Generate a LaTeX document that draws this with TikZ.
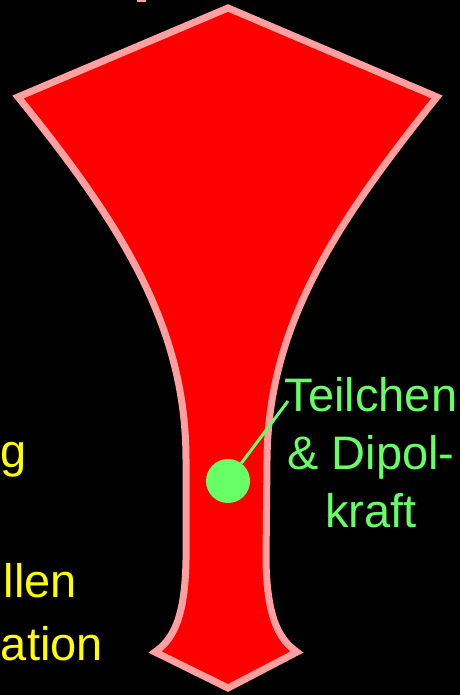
\documentclass[tikz,border=0pt]{standalone}
\usepackage{fontspec}
\setmainfont{Liberation Sans}
\definecolor{rosso}{HTML}{FF0000}
\definecolor{bordo}{HTML}{FFA0A0}
\definecolor{verde}{HTML}{66FF66}
\definecolor{giallo}{HTML}{FFFF00}
\tikzset{
  testo/.style={inner sep=0pt, font=\fontsize{47}{58}\selectfont},
  giallotesto/.style={testo, text=giallo, anchor=base east},
}
\begin{document}
\begin{tikzpicture}[x=1pt, y=-1pt]

  % --- sfondo ---
  \fill[black] (0,0) rectangle (460,695);
  \useasboundingbox (0,0) rectangle (460,695);
  \fill[bordo] (137,0) rectangle (146,2);

  % --- imbuto ---
  \filldraw[fill=rosso, draw=bordo, line width=7pt, line join=miter]
    (228,8) -- (437,97)
    .. controls (330,230) and (268,330) .. (267,460)
    -- (266,560)
    .. controls (267,620) and (280,640) .. (297,652)
    -- (228,688) -- (155,652)
    .. controls (172,640) and (185,620) .. (186,560)
    -- (186,460)
    .. controls (186,330) and (126,230) .. (18,97)
    -- cycle;

  % --- testi a sinistra ---
  \node[giallotesto] (g) at (27,467) {g};
  \node[giallotesto] (llen) at (77,597) {llen};
  \node[giallotesto] (ation) at (103,660) {ation};

  % --- particella ---
  \node[circle, fill=verde, inner sep=0pt, minimum size=44pt] (dot) at (228,481) {};
  \node[testo, text=verde, align=center, anchor=north] (label) at (371,377)
    {Teilchen\\ \& Dipol-\\ kraft};
  \coordinate (tip) at (288,401);
  \draw[verde, line width=3pt] (dot) -- (tip);

\end{tikzpicture}
\end{document}
